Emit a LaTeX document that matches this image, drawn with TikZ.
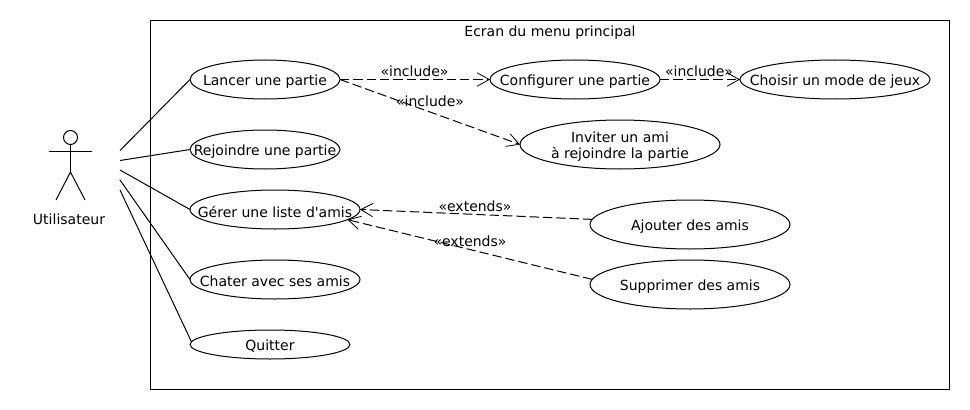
\documentclass[tikz,border=0pt]{standalone}
\usepackage{fontspec}
\setmainfont{DejaVu Sans}
\usetikzlibrary{shapes.geometric,arrows.meta}

\tikzset{
  usecase/.style={ellipse,draw,inner sep=0pt,outer sep=0pt},
  every label/.style={yshift=-1.5pt},
  stereo/.style={inner sep=0pt},
  assoc/.style={dash pattern=on 7pt off 3pt,->}
}

\begin{document}
\begin{tikzpicture}[x=.75pt,y=-.75pt,line width=.75pt,font=\fontsize{10.5pt}{12pt}\selectfont,
    >={Straight Barb[length=9pt,width=10pt,line width=.6pt]}]
          \useasboundingbox (0,0) rectangle (970,410);
          \draw (150,20.5) rectangle (949.5,389.5);
          \node[inner sep=0pt] (titre) at (550,33) {Ecran du menu principal};

            % Acteur
          \node[circle,draw,inner sep=0pt,minimum size=10.5pt] (tete) at (70.5,137.5) {};
          \coordinate (bassin) at (70.5,172);
          \draw (tete.south) -- (bassin);
          \draw (49,151) -- (92,151);
          \draw (56,200) -- (bassin) -- (85,200);
          \node[inner sep=0pt] (acteur) at (69,219) {Utilisateur};

            % Cas
          \node[usecase,minimum width=112.5pt,minimum height=29.25pt,label={center:Lancer une partie}] (lancer) at (265,79.5) {};
          \node[usecase,minimum width=112.5pt,minimum height=29.25pt,label={center:Rejoindre une partie}] (rejoindre) at (265,149.5) {};
          \node[usecase,minimum width=127.5pt,minimum height=29.25pt,label={center:Gérer une liste d\textquotesingle amis}] (gerer) at (275,209.5) {};
          \node[usecase,minimum width=127.5pt,minimum height=29.25pt,label={center:Chater avec ses amis}] (chater) at (275,279.5) {};
          \node[usecase,minimum width=120pt,minimum height=21.75pt,label={center:Quitter}] (quitter) at (270,344.5) {};
          \node[usecase,minimum width=127.5pt,minimum height=29.25pt,label={center:Configurer une partie}] (configurer) at (575,79.5) {};
          \node[usecase,minimum width=142.5pt,minimum height=29.25pt,label={center:Choisir un mode de jeux}] (choisir) at (835,79.5) {};
          \node[usecase,minimum width=150pt,minimum height=36.75pt,label={[align=center]center:Inviter un ami\\à rejoindre la partie}] (inviter) at (620,144.5) {};
          \node[usecase,minimum width=150pt,minimum height=36.75pt,label={center:Ajouter des amis}] (ajouter) at (690,224.5) {};
          \node[usecase,minimum width=150pt,minimum height=36.75pt,label={center:Supprimer des amis}] (supprimer) at (690,284.5) {};

            % Liens avec l'acteur
          \coordinate (main1) at (120,150.5);
          \coordinate (main2) at (120,160.5);
          \coordinate (main3) at (120,170);
          \coordinate (main4) at (120,180);
          \coordinate (main5) at (120,190);
          \draw (main1) -- (lancer.west);
          \draw (main2) -- (rejoindre.west);
          \draw (main3) -- (gerer.west);
          \draw (main4) -- (chater.west);
          \draw (main5) -- (quitter.178);

            % Inclusions
          \draw[assoc] (lancer.east) -- (configurer.west);
          \draw[assoc] (configurer.east) -- (choisir.west);
          \draw[assoc] (lancer.east) -- (inviter.west);
          \node[stereo] (incl1) at (414.5,71) {«include»};
          \node[stereo] (incl2) at (699,71) {«include»};
          \node[stereo] (incl3) at (430,101) {«include»};

            % Extensions
          \draw[assoc] (ajouter.177) -- (gerer.east);
          \draw[assoc] (supprimer.177) -- (gerer.352);
          \node[stereo] (ext1) at (475,206) {«extends»};
          \node[stereo] (ext2) at (470,241) {«extends»};
        \end{tikzpicture}
\end{document}
